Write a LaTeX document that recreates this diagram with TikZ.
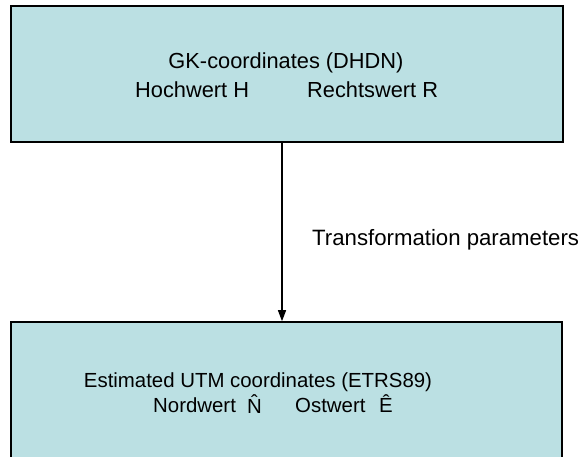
\documentclass[tikz,border=0pt]{standalone}
\usepackage{fontspec}
\setmainfont{Liberation Sans}
\usetikzlibrary{arrows.meta,calc}
\definecolor{boxfill}{HTML}{BBE0E3}
\begin{document}
\begin{tikzpicture}[x=1pt,y=-1pt,
  box/.style={draw=black,line width=1.6pt,fill=boxfill,rectangle,inner sep=0pt},
  txt/.style={font=\fontsize{21.8}{26}\selectfont,inner sep=0pt,text=black},
  txtb/.style={font=\fontsize{20.4}{25}\selectfont,inner sep=0pt,text=black},
  conn/.style={line width=1.3pt,-{Triangle[length=11pt,width=8pt]}}]
\clip (0,0) rectangle (580,456);
\fill[white] (0,0) rectangle (580,456);
\node[box,minimum width=552pt,minimum height=136pt] (top) at (287,74) {};
\node[box,minimum width=551pt,minimum height=140pt] (bot) at (286.5,392) {};
\node[txt,anchor=base] (t1) at (286,68) {GK-coordinates (DHDN)};
\node[txt,anchor=base west] (t2) at (135,97) {Hochwert H};
\node[txt,anchor=base west] (t3) at (307,97) {Rechtswert R};
\node[txtb,anchor=base] (b1) at (258,387) {Estimated UTM coordinates (ETRS89)};
\node[txtb,anchor=base west] (b2) at (153,412) {Nordwert};
\node[txtb,anchor=base west] (b3) at (247,413) {\^{N}};
\node[txtb,anchor=base west] (b4) at (295,412) {Ostwert};
\node[txtb,anchor=base west] (b5) at (379,412) {Ê};
\node[txt,font=\fontsize{22.2}{26}\selectfont,anchor=base west] (lab) at (312,245) {Transformation parameters};
\coordinate (s) at (282,142);
\draw[conn] (s) -- (s |- bot.north);
\end{tikzpicture}
\end{document}
